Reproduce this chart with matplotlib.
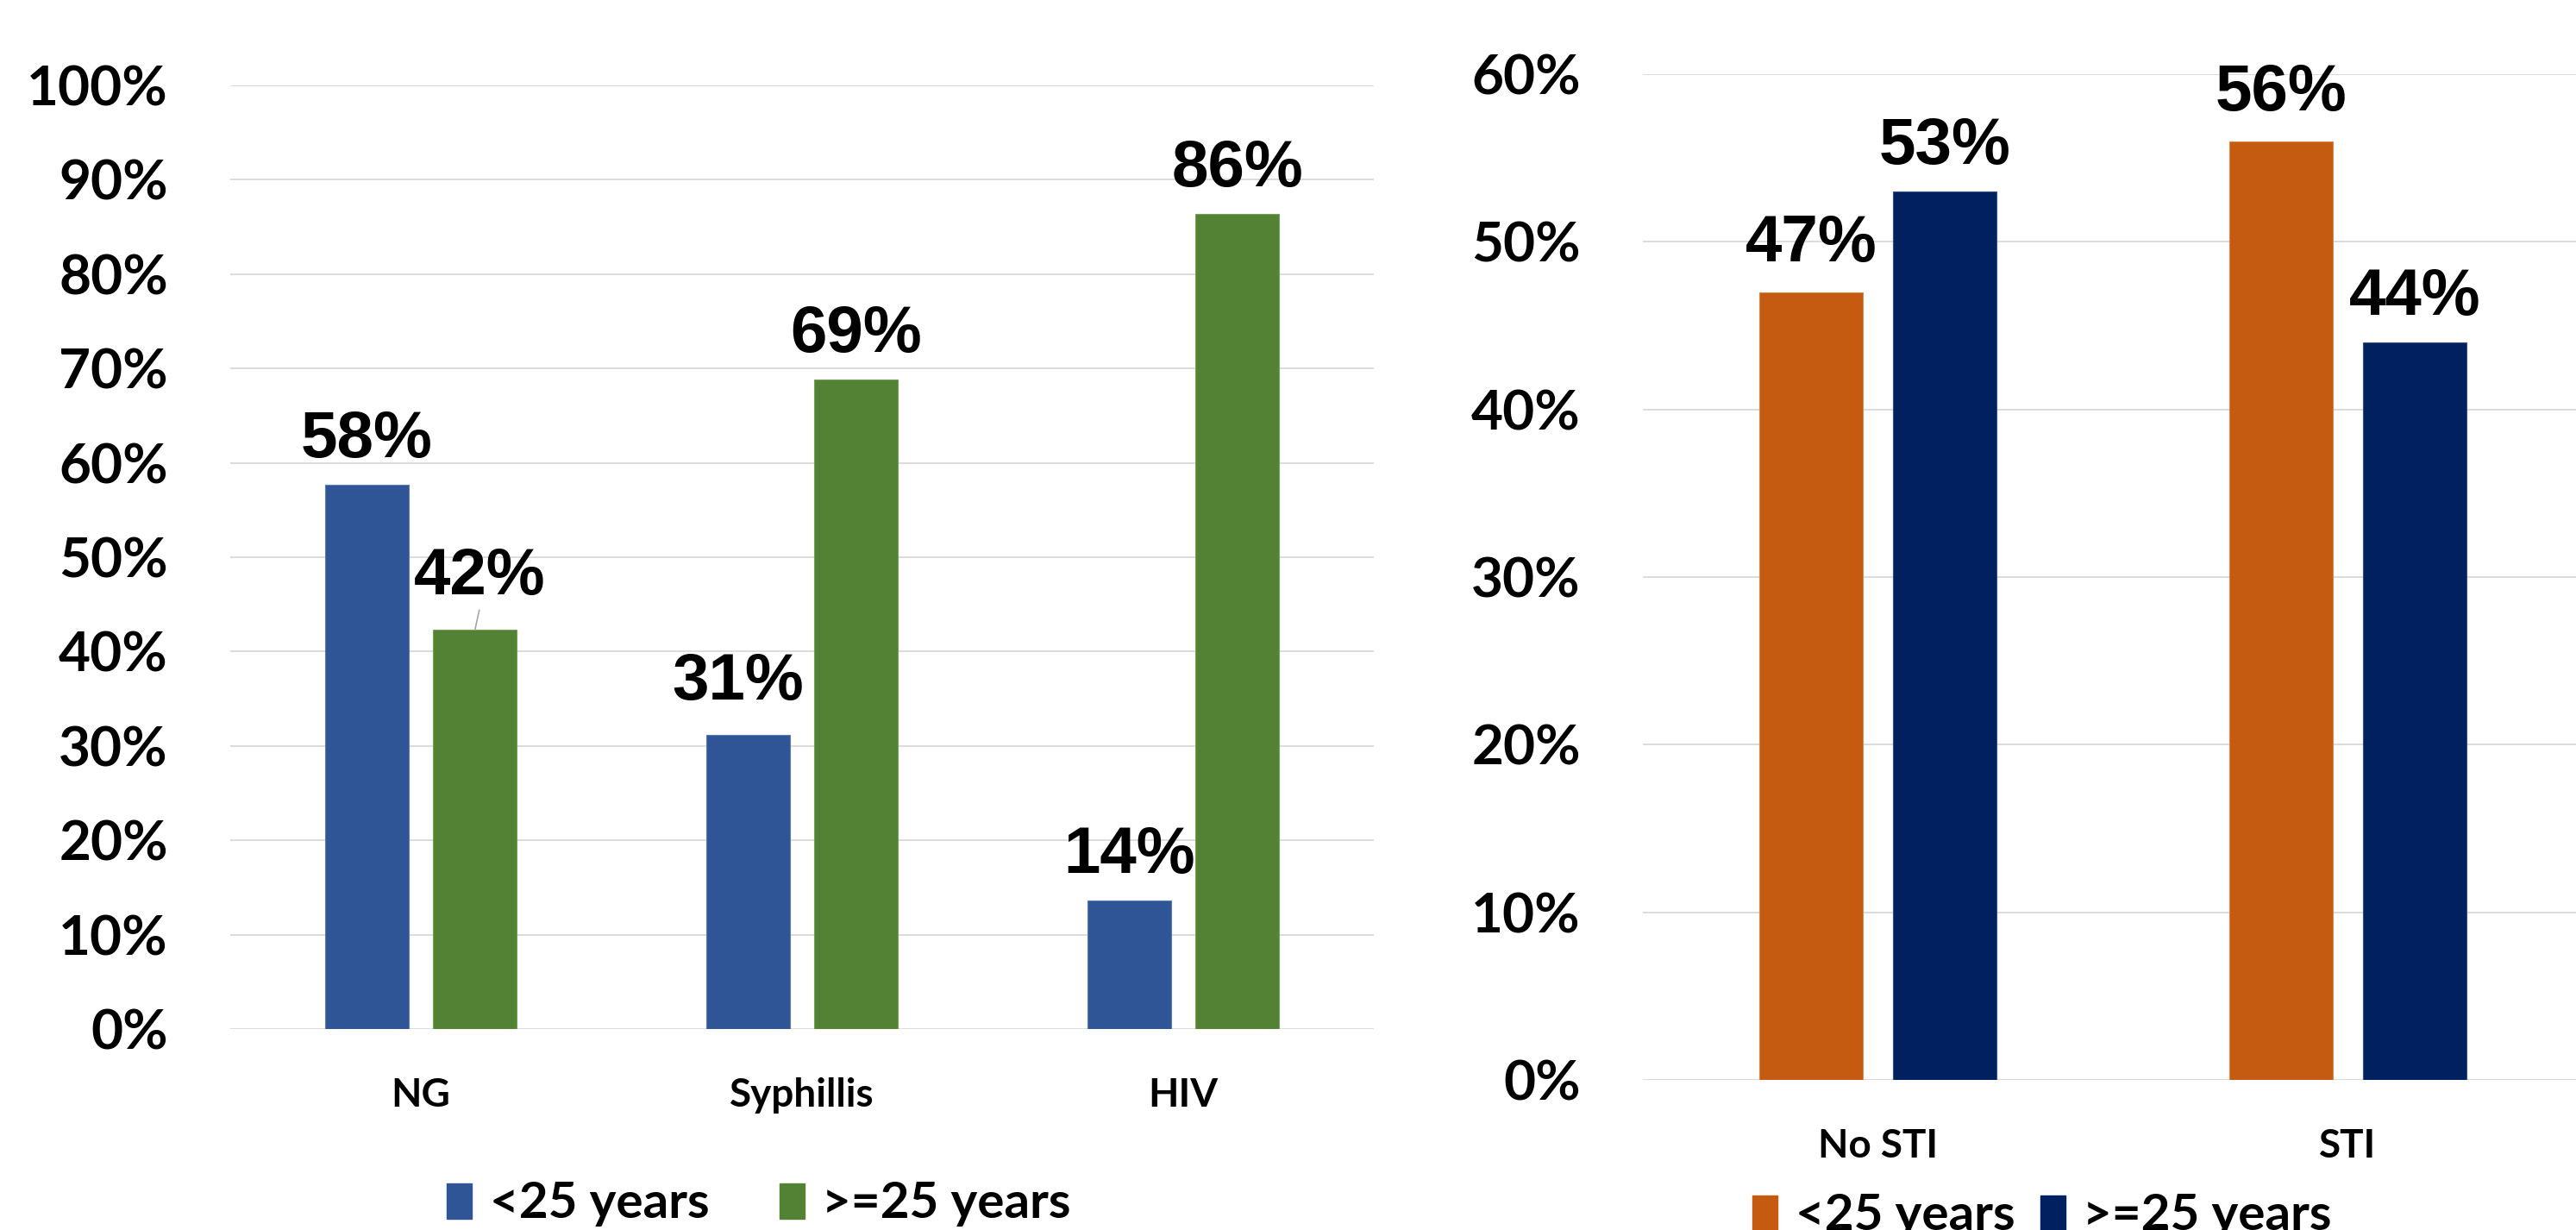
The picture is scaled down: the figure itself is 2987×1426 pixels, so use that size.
import matplotlib
matplotlib.use("Agg")
import numpy as np
import matplotlib.pyplot as plt
from matplotlib.patches import Patch

# left panel: share of each infection by age group
left_cats = ["NG", "Syphillis", "HIV"]
left_under25 = [57.7, 31.2, 13.6]
left_over25 = [42.3, 68.8, 86.4]

# right panel: STI status by age group
right_cats = ["No STI", "STI"]
right_under25 = [47, 56]
right_over25 = [53, 44]

series_labels = ["<25 years", ">=25 years"]
left_ticks = list(range(0, 101, 10))
right_ticks = list(range(0, 61, 10))

BLUE, GREEN = "#2F5597", "#548235"
ORANGE, NAVY = "#C55A11", "#002060"
GRID = "#d9d9d9"
TICK_FONT = "Lato"
LABEL_FONT = "Liberation Sans"

W, H = 2987, 1426
fig = plt.figure(figsize=(W / 100, H / 100), dpi=100)


def style_axes(ax, ticks, cats):
    for s in ax.spines.values():
        s.set_visible(False)
    ax.set_yticks(ticks)
    ax.set_yticklabels([f"{t}%" for t in ticks], fontfamily=TICK_FONT,
                       fontweight="bold", fontsize=46)
    ax.set_xticks(range(len(cats)))
    ax.set_xticklabels(cats, fontfamily=TICK_FONT, fontweight="bold", fontsize=33)
    ax.tick_params(axis="y", length=0, pad=52)
    ax.tick_params(axis="x", length=0, pad=40)
    ax.yaxis.grid(True, color=GRID, linewidth=1.3)
    ax.set_axisbelow(True)
    ax.set_xlim(-0.5, len(cats) - 0.5)
    ax.set_ylim(0, ticks[-1])


def bar_label(ax, x, v, dx=0, dy=0, leader=False):
    kw = dict(textcoords="offset points", ha="center", va="baseline",
              fontfamily=LABEL_FONT, fontweight="bold", fontsize=55,
              annotation_clip=False)
    if leader:
        kw["arrowprops"] = dict(arrowstyle="-", color="#a6a6a6", lw=1.2,
                                shrinkA=0, shrinkB=0, relpos=(0.5, 0))
    ax.annotate(f"{v:.0f}%", xy=(x, v), xytext=(dx, 23 + dy), **kw)


w, off = 0.22, 0.142

# ---- left panel
axl = fig.add_axes([267 / W, 1 - 1193 / H, 1326 / W, (1193 - 99) / H])
xl = np.arange(len(left_cats))
axl.bar(xl - off, left_under25, w, color=BLUE, edgecolor="#5a7bb5", linewidth=0.8)
axl.bar(xl + off, left_over25, w, color=GREEN, edgecolor="#76a05a", linewidth=0.8)
style_axes(axl, left_ticks, left_cats)
for i in range(len(left_cats)):
    bar_label(axl, xl[i] - off, left_under25[i], dx=-8 if i == 1 else 0,
              dy=6 if i == 1 else 0)
    bar_label(axl, xl[i] + off, left_over25[i], dx=4 if i == 0 else 0,
              dy=7 if i == 0 else 0, leader=(i == 0))
fig.legend(handles=[Patch(color=BLUE), Patch(color=GREEN)], labels=series_labels,
           loc="center", bbox_to_anchor=(880 / W, 1 - 1396 / H), ncol=2,
           frameon=False, prop=dict(family=TICK_FONT, weight="bold", size=42),
           handlelength=0.5, handleheight=0.7, handletextpad=0.35, columnspacing=1.4)

# ---- right panel
axr = fig.add_axes([1905 / W, 1 - 1252 / H, 1090 / W, (1252 - 86) / H])
xr = np.arange(len(right_cats))
axr.bar(xr - off, right_under25, w, color=ORANGE, edgecolor="#d9854d", linewidth=0.8)
axr.bar(xr + off, right_over25, w, color=NAVY, edgecolor="#33507f", linewidth=0.8)
style_axes(axr, right_ticks, right_cats)
for i in range(len(right_cats)):
    bar_label(axr, xr[i] - off, right_under25[i], dy=3)
    bar_label(axr, xr[i] + off, right_over25[i])
fig.legend(handles=[Patch(color=ORANGE), Patch(color=NAVY)], labels=series_labels,
           loc="center", bbox_to_anchor=(2368 / W, 1 - 1410 / H), ncol=2,
           frameon=False, prop=dict(family=TICK_FONT, weight="bold", size=42),
           handlelength=0.5, handleheight=0.7, handletextpad=0.35, columnspacing=0.5)

fig.savefig("out.png", dpi=100)
